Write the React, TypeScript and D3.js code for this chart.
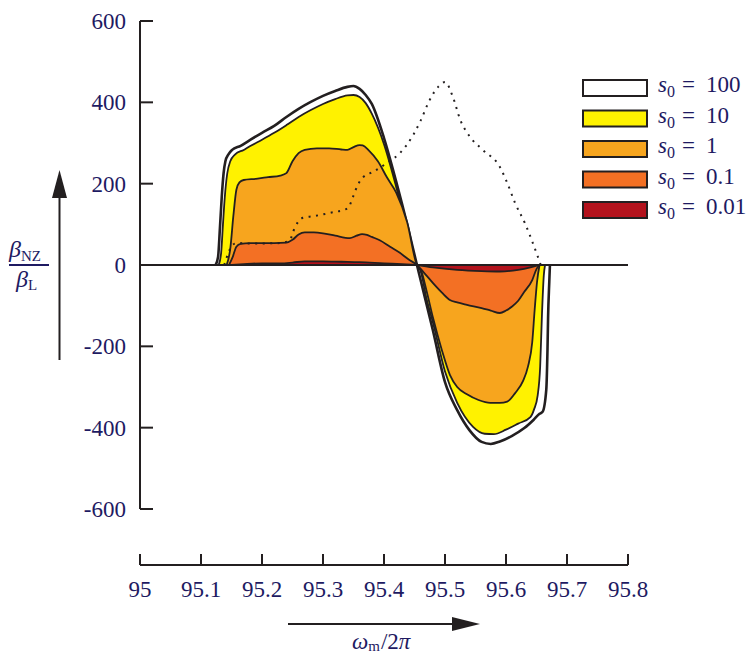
import React from 'react';
import * as d3 from 'd3';

type Pt = [number, number];

// frequency (GHz) and beta_NZ / beta_L
const s100: Pt[] = [
  [95.124, 0], [95.128, 20], [95.131, 90], [95.134, 167], [95.137, 225], [95.14, 255],
  [95.145, 272], [95.151, 283], [95.165, 293], [95.18, 307], [95.2, 325], [95.22, 342],
  [95.24, 364], [95.26, 384], [95.28, 401], [95.3, 416], [95.32, 428], [95.34, 438],
  [95.35, 440], [95.36, 433], [95.37, 418], [95.38, 396], [95.4, 312], [95.42, 205],
  [95.44, 88], [95.454, 0], [95.46, -37], [95.48, -160], [95.5, -288], [95.52, -357],
  [95.54, -406], [95.56, -435], [95.575, -440], [95.59, -434], [95.61, -420], [95.63, -401],
  [95.645, -381], [95.655, -366], [95.66, -361], [95.666, -307], [95.668, -209],
  [95.669, -128], [95.671, -40], [95.672, 0],
];

const s10: Pt[] = [
  [95.129, 0], [95.133, 30], [95.136, 100], [95.139, 167], [95.143, 225], [95.148, 255],
  [95.156, 272], [95.17, 283], [95.18, 292], [95.2, 308], [95.22, 325], [95.24, 344],
  [95.26, 364], [95.28, 381], [95.3, 396], [95.32, 408], [95.34, 417], [95.35, 418],
  [95.36, 413], [95.37, 398], [95.38, 372], [95.4, 297], [95.42, 192], [95.44, 75],
  [95.454, 0], [95.46, -15], [95.47, -85], [95.48, -140], [95.5, -262], [95.52, -339],
  [95.546, -398], [95.565, -415], [95.58, -416], [95.6, -405], [95.62, -390], [95.64, -374],
  [95.646, -355], [95.652, -320], [95.656, -250], [95.659, -120], [95.662, -25], [95.664, 0],
];

const s1: Pt[] = [
  [95.142, 0], [95.148, 40], [95.153, 120], [95.158, 185], [95.163, 203], [95.17, 209],
  [95.19, 212], [95.21, 216], [95.23, 220], [95.24, 226], [95.25, 255], [95.26, 275],
  [95.27, 283], [95.29, 287], [95.31, 287], [95.33, 284], [95.34, 283], [95.35, 290],
  [95.36, 295], [95.365, 294], [95.375, 282], [95.39, 255], [95.405, 215], [95.42, 178],
  [95.438, 105], [95.454, 0], [95.46, -10], [95.47, -65], [95.48, -128], [95.495, -210],
  [95.508, -270], [95.52, -300], [95.536, -318], [95.555, -332], [95.574, -339],
  [95.59, -339], [95.602, -336], [95.615, -315], [95.628, -285], [95.636, -250],
  [95.643, -190], [95.647, -110], [95.651, -40], [95.655, 0],
];

const s01: Pt[] = [
  [95.146, 0], [95.152, 20], [95.158, 45], [95.165, 52], [95.18, 54], [95.2, 54],
  [95.22, 54], [95.24, 55], [95.25, 62], [95.26, 75], [95.27, 80], [95.285, 80],
  [95.3, 78], [95.32, 72], [95.344, 66], [95.355, 72], [95.364, 76], [95.372, 74],
  [95.38, 69], [95.393, 61], [95.41, 45], [95.426, 30], [95.44, 14], [95.454, 0],
  [95.465, -18], [95.48, -44], [95.495, -68], [95.508, -86], [95.52, -92], [95.536, -98],
  [95.56, -106], [95.575, -112], [95.59, -118], [95.6, -112], [95.61, -102], [95.62, -88],
  [95.63, -66], [95.643, -37], [95.65, -10], [95.655, 0],
];

const s001: Pt[] = [
  [95.15, 0], [95.17, 2], [95.2, 4], [95.23, 4], [95.25, 6], [95.27, 9], [95.3, 9],
  [95.33, 8], [95.36, 7], [95.4, 4], [95.43, 2], [95.454, 0], [95.48, -6], [95.52, -12],
  [95.56, -15], [95.59, -16], [95.62, -12], [95.64, -6], [95.655, 0],
];

// dotted reference curve
const dotted: Pt[] = [
  [95.138, 0], [95.145, 30], [95.152, 50], [95.16, 54], [95.18, 53], [95.2, 53],
  [95.23, 54], [95.245, 60], [95.254, 93], [95.267, 116], [95.284, 120], [95.311, 128],
  [95.341, 140], [95.349, 167], [95.357, 197], [95.366, 216], [95.382, 229], [95.405, 251],
  [95.426, 275], [95.448, 320], [95.46, 355], [95.475, 406], [95.49, 440], [95.5, 450],
  [95.513, 413], [95.525, 357], [95.541, 315], [95.562, 283], [95.59, 241], [95.602, 202],
  [95.615, 152], [95.631, 103], [95.644, 54], [95.657, 0],
];

const legendLabels = ['100', '10', '1', '0.1', '0.01'];
const seriesList = [s100, s10, s1, s01, s001];
const colors = ['#ffffff', '#fff200', '#f7a51e', '#f37024', '#b3121c'];

const xTicks = [95, 95.1, 95.2, 95.3, 95.4, 95.5, 95.6, 95.7, 95.8];
const yTicks = [600, 400, 200, 0, -200, -400, -600];

const ink = '#231f20';
const navy = '#1e1a62';
const serif = "'Liberation Serif', 'Times New Roman', Times, serif";

export default function App() {
  const x = d3.scaleLinear().domain([95, 95.8]).range([140, 628]);
  const y = d3.scaleLinear().domain([-600, 600]).range([509, 21]);
  const y0 = y(0);

  const area = d3
    .area<Pt>()
    .x((d) => x(d[0]))
    .y0(y0)
    .y1((d) => y(d[1]))
    .curve(d3.curveMonotoneX);
  const line = d3
    .line<Pt>()
    .x((d) => x(d[0]))
    .y((d) => y(d[1]))
    .curve(d3.curveMonotoneX);

  const axisY = 565;

  return (
    <svg width={750} height={656} style={{ position: 'absolute', left: 0, top: 0, fontFamily: serif }}>
      <rect width={750} height={656} fill="#fff" />

      {/* filled regions */}
      {seriesList.map((s, i) => (
        <g key={i}>
          <path d={area(s) || ''} fill={colors[i]} />
          <path d={line(s) || ''} fill="none" stroke={ink} strokeWidth={i === 0 ? 2.6 : 1.8} strokeLinejoin="round" />
        </g>
      ))}

      <path
        d={line(dotted) || ''}
        fill="none"
        stroke={ink}
        strokeWidth={2}
        strokeDasharray="2,5.5"
      />

      {/* zero line */}
      <line x1={x(95)} x2={x(95.8)} y1={y0} y2={y0} stroke={ink} strokeWidth={2.2} />

      {/* y axis */}
      <line x1={140} x2={140} y1={y(600)} y2={y(-600)} stroke={ink} strokeWidth={2} />
      {yTicks.map((t) => (
        <g key={t}>
          <line x1={140} x2={153} y1={y(t)} y2={y(t)} stroke={ink} strokeWidth={2} />
          <text x={126} y={y(t) + 8} textAnchor="end" fontSize={23} fill={navy}>
            {t}
          </text>
        </g>
      ))}

      {/* x axis */}
      <line x1={x(95)} x2={x(95.8)} y1={axisY} y2={axisY} stroke={ink} strokeWidth={2} />
      {xTicks.map((t) => (
        <g key={t}>
          <line x1={x(t)} x2={x(t)} y1={axisY} y2={axisY - 11} stroke={ink} strokeWidth={2} />
          <text x={x(t)} y={597} textAnchor="middle" fontSize={23} fill={navy}>
            {String(t)}
          </text>
        </g>
      ))}

      {/* y label and arrow */}
      <line x1={59.5} x2={59.5} y1={360} y2={195} stroke={ink} strokeWidth={2} />
      <path d="M52,198 L67,198 L59.5,170 Z" fill={ink} />
      <text x={9} y={257} fontSize={24} fill={navy}>
        <tspan fontStyle="italic">β</tspan>
        <tspan fontSize={15} dy={4}>NZ</tspan>
      </text>
      <line x1={9} x2={49} y1={265} y2={265} stroke={navy} strokeWidth={2} />
      <text x={16} y={287} fontSize={24} fill={navy}>
        <tspan fontStyle="italic">β</tspan>
        <tspan fontSize={15} dy={3}>L</tspan>
      </text>

      {/* x label and arrow */}
      <line x1={288} x2={455} y1={624} y2={624} stroke={ink} strokeWidth={2} />
      <path d="M452,617 L452,631 L480,624 Z" fill={ink} />
      <text x={352} y={649} fontSize={23} fill={navy}>
        <tspan fontStyle="italic">ω</tspan>
        <tspan fontSize={15} dy={2}>m</tspan>
        <tspan dy={-2} dx={1}>/2</tspan>
        <tspan fontStyle="italic">π</tspan>
      </text>

      {/* legend */}
      {legendLabels.map((lab, i) => {
        const top = 80 + i * 30.5;
        return (
          <g key={lab}>
            <rect x={583} y={top} width={64} height={16} fill={colors[i]} stroke={ink} strokeWidth={2} />
            <text y={top + 12} fontSize={23} fill={navy}>
              <tspan x={658} fontStyle="italic">s</tspan>
              <tspan x={667} fontSize={16} dy={5}>0</tspan>
              <tspan x={682} dy={-5}>=</tspan>
              <tspan x={706}>{lab}</tspan>
            </text>
          </g>
        );
      })}
    </svg>
  );
}
